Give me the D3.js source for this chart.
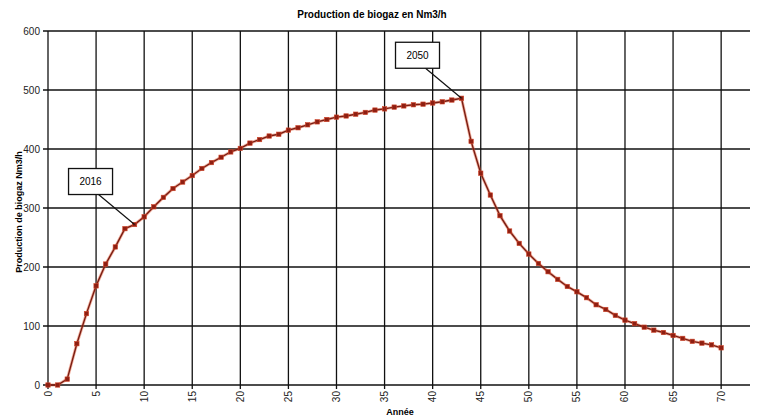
<!DOCTYPE html>
<meta charset="utf-8">
<style>

body {
  margin: 0;
  background: #fff;
  font-family: "Liberation Sans", Arial, sans-serif;
}

.grid line {
  stroke: #111;
  stroke-width: 1.3px;
}

.tick-label {
  font-size: 10px;
  fill: #222;
}

.title {
  font-size: 10px;
  font-weight: bold;
}

.axis-title {
  font-size: 9px;
  font-weight: bold;
}

.callout rect {
  fill: #fff;
  stroke: #111;
  stroke-width: 1.3px;
}

</style>
<body>
<script src="https://cdn.jsdelivr.net/npm/d3@7"></script>
<script>

// annees 0..70
var years = d3.range(0, 71);

// production de biogaz (Nm3/h)
var production = [
  0, 0, 10, 70, 121, 168, 205, 234, 265, 272,
  285, 302, 318, 333, 344, 355, 367, 377, 386, 395,
  401, 410, 416, 422, 425, 432, 436, 441, 446, 450,
  454, 456, 459, 462, 466, 468, 471, 473, 475, 476,
  478, 480, 483, 486, 413, 359, 322, 287, 261, 240,
  222, 206, 192, 179, 167, 158, 148, 136, 128, 118,
  110, 104, 98, 93, 89, 84, 79, 74, 71, 68,
  63
];

var xTicks = d3.range(0, 71, 5);
var yTicks = [0, 100, 200, 300, 400, 500, 600];

var calloutLabels = ["2016", "2050"];
var calloutYears = [9, 43];

var margin = {top: 31, right: 10, bottom: 32, left: 48},
    width = 760,
    height = 417;

var x = d3.scaleLinear()
    .domain([0, 73])
    .range([margin.left, width - margin.right]);

var y = d3.scaleLinear()
    .domain([0, 600])
    .range([height - margin.bottom, margin.top]);

var svg = d3.select("body").append("svg")
    .attr("width", width)
    .attr("height", height);

// grille horizontale
svg.append("g")
    .attr("class", "grid")
  .selectAll("line")
    .data(yTicks)
  .enter().append("line")
    .attr("x1", margin.left - 5)
    .attr("x2", width - margin.right)
    .attr("y1", function(d) { return y(d); })
    .attr("y2", function(d) { return y(d); });

// grille verticale
svg.append("g")
    .attr("class", "grid")
  .selectAll("line")
    .data(xTicks)
  .enter().append("line")
    .attr("x1", function(d) { return x(d); })
    .attr("x2", function(d) { return x(d); })
    .attr("y1", y(600))
    .attr("y2", y(0) + 4);

svg.selectAll(".ylab")
    .data(yTicks)
  .enter().append("text")
    .attr("class", "tick-label")
    .attr("x", margin.left - 8)
    .attr("y", function(d) { return y(d); })
    .attr("dy", "0.35em")
    .attr("text-anchor", "end")
    .text(function(d) { return d; });

svg.selectAll(".xlab")
    .data(xTicks)
  .enter().append("text")
    .attr("class", "tick-label")
    .attr("text-anchor", "end")
    .attr("dy", "0.35em")
    .attr("transform", function(d) { return "translate(" + x(d) + "," + (y(0) + 6) + ") rotate(-90)"; })
    .text(function(d) { return d; });

svg.append("text")
    .attr("class", "title")
    .attr("x", 372)
    .attr("y", 18)
    .attr("text-anchor", "middle")
    .text("Production de biogaz en Nm3/h");

svg.append("text")
    .attr("class", "axis-title")
    .attr("text-anchor", "middle")
    .attr("transform", "translate(22,212) rotate(-90)")
    .text("Production de biogaz Nm3/h");

svg.append("text")
    .attr("class", "axis-title")
    .attr("x", 400)
    .attr("y", 415)
    .attr("text-anchor", "middle")
    .text("Année");

var line = d3.line()
    .x(function(d, i) { return x(years[i]); })
    .y(function(d) { return y(d); });

svg.append("path")
    .datum(production)
    .attr("fill", "none")
    .attr("stroke", "#e0502a")
    .attr("stroke-opacity", 0.45)
    .attr("stroke-width", 3)
    .attr("d", line);

svg.append("path")
    .datum(production)
    .attr("fill", "none")
    .attr("stroke", "#7a1d12")
    .attr("stroke-width", 1.4)
    .attr("d", line);

svg.selectAll(".dot")
    .data(production)
  .enter().append("rect")
    .attr("class", "dot")
    .attr("x", function(d, i) { return x(years[i]) - 2.2; })
    .attr("y", function(d) { return y(d) - 2.2; })
    .attr("width", 4.4)
    .attr("height", 4.4)
    .attr("fill", "#8e1f12")
    .attr("stroke", "#d0452a")
    .attr("stroke-width", 0.6);

// bulles 2016 / 2050
calloutLabels.forEach(function(label, k) {
  var px = x(calloutYears[k]),
      py = y(production[calloutYears[k]]);
  var bx = px - 66, by = py - 56, bw = 44, bh = 26;
  var g = svg.append("g").attr("class", "callout");
  g.append("line")
    .attr("x1", bx + 30)
    .attr("y1", by + bh)
    .attr("x2", px)
    .attr("y2", py)
    .attr("stroke", "#111")
    .attr("stroke-width", 1.2);
  g.append("rect")
    .attr("x", bx)
    .attr("y", by)
    .attr("width", bw)
    .attr("height", bh);
  g.append("text")
    .attr("x", bx + bw / 2)
    .attr("y", by + bh / 2)
    .attr("dy", "0.35em")
    .attr("text-anchor", "middle")
    .style("font-size", "10px")
    .text(label);
});

</script>
</body>
